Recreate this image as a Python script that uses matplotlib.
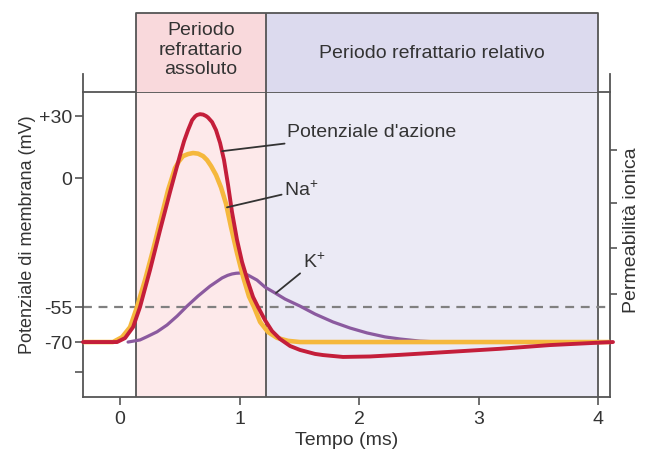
import numpy as np
import matplotlib
matplotlib.use("Agg")
import matplotlib.pyplot as plt

plt.rcParams['font.family'] = ['Liberation Sans', 'DejaVu Sans']
plt.rcParams['mathtext.fontset'] = 'custom'
plt.rcParams['mathtext.rm'] = 'Liberation Sans'
plt.rcParams['mathtext.default'] = 'regular'

# ---------------- data ----------------
# time in ms, membrane potential in mV
ap_t = [-0.31, -0.15, -0.025, 0.042, 0.109, 0.167, 0.251, 0.335, 0.418, 0.502,
        0.536, 0.569, 0.603, 0.628, 0.644, 0.669, 0.695, 0.720, 0.736, 0.770,
        0.803, 0.837, 0.870, 0.904, 0.937,
        0.979, 1.021, 1.071, 1.113, 1.155, 1.213, 1.272, 1.339, 1.423, 1.506,
        1.632, 1.700, 1.866, 2.092, 2.343, 2.762, 3.180, 3.598, 3.992, 4.125]
ap_v = [-70, -70, -70, -68.3, -63.6, -55, -39.2, -22.2, -6.0, 11.1,
        17.9, 23.2, 28.0, 29.8, 30.5, 30.9, 30.7, 30.0, 29.3, 27.1,
        23.2, 17.0, 8.7, -3, -14.5,
        -26.4, -35.8, -44.3, -50.7, -55, -60.6, -65.3, -68.7, -71.7, -73.4,
        -75.1, -75.6, -76.4, -76.2, -75.5, -74.2, -72.9, -71.3, -70.3, -70]

na_t = [-0.31, -0.15, -0.059, 0.017, 0.084, 0.142, 0.209, 0.276, 0.343, 0.402,
        0.460, 0.494, 0.527, 0.569, 0.611, 0.653, 0.695, 0.728, 0.762, 0.803,
        0.845, 0.887, 0.929, 0.979,
        1.029, 1.079, 1.121, 1.172, 1.238, 1.314, 1.406, 1.506, 2.0, 2.5,
        3.0, 3.5, 4.0, 4.12]
na_v = [-70, -70, -70, -67.9, -63.6, -55, -43.5, -30.7, -17.1, -5.1,
        4.8, 8.2, 10.6, 11.6, 12.1, 11.8, 10.6, 8.7, 5.8, 1.5,
        -4, -11, -21, -32,
        -42, -50.5, -55, -61.4, -65.7, -68.2, -69.5, -70, -70, -70,
        -70, -70, -70, -70]

k_t = [0.067, 0.167, 0.226, 0.310, 0.393, 0.477, 0.561, 0.653, 0.753, 0.854,
       0.900, 0.937, 0.971, 1.004, 1.038, 1.071, 1.146, 1.213, 1.297, 1.381,
       1.506, 1.632, 1.782,
       1.925, 2.067, 2.218, 2.343, 2.510, 2.678, 3.2, 3.6, 4.0]
k_v = [-70, -69.1, -67.7, -65.6, -62.7, -58.9, -54.6, -50.3, -46.1, -42.6,
       -41.5, -40.9, -40.6, -40.5, -40.8, -41.4, -43.5, -46.5, -49, -51.6,
       -54.6, -58, -61.4,
       -64, -66.1, -67.8, -68.7, -69.6, -70, -70, -70, -70]

threshold = -55
y_ticks = [30, 0, -55, -70, -83]
y_ticklabels = ['+30', '0', '-55', '-70', '']
x_ticks = [0, 1, 2, 3, 4]
perm_ticks = [0.338, 0.489, 0.636, 0.81]

abs_period = (0.134, 1.222)
rel_period = (1.222, 4.0)

# ---------------- non-linear schematic y-scale ----------------
mv_knots = np.array([-140, -70, -55, 0, 30, 100], dtype=float)
px_knots = -np.array([505, 342, 307, 178, 116, -29], dtype=float)

def fwd(v):
    return np.interp(v, mv_knots, px_knots)

def inv(d):
    return np.interp(d, px_knots, mv_knots)

W, H = 651, 453
fig = plt.figure(figsize=(W / 100, H / 100), dpi=100)

L, R, T, B = 83, 610, 92, 397
ax = fig.add_axes([L / W, 1 - B / H, (R - L) / W, (B - T) / H])
ax.set_yscale('function', functions=(fwd, inv))
ax.set_xlim(-0.31, 4.10)
ax.set_ylim(-93.6, 41.6)

edge = '#555555'
txt = '#333333'

ax.axvspan(*abs_period, color='#fde9ea', zorder=0, lw=0)
ax.axvspan(*rel_period, color='#ebeaf5', zorder=0, lw=0)
for xv in (abs_period[0], abs_period[1], rel_period[1]):
    ax.axvline(xv, color=edge, lw=1.3, zorder=1)

ax.axhline(threshold, color='#808080', lw=1.6, dashes=(4, 3), zorder=2)

ax.plot(k_t, k_v, color='#8b5a9f', lw=2.3, zorder=3, solid_capstyle='round',
        solid_joinstyle='round')
ax.plot(na_t, na_v, color='#f5b83d', lw=3.3, zorder=4, solid_capstyle='round',
        solid_joinstyle='round')
ax.plot(ap_t, ap_v, color='#c41e3a', lw=2.8, zorder=5, solid_capstyle='round',
        solid_joinstyle='round', clip_on=False)

for s in ax.spines.values():
    s.set_color(edge)
    s.set_linewidth(1.3)

# side spines extend above the top line
for xa in (0, 1):
    ax.plot([xa, xa], [1, 1 + 18 / (B - T)], transform=ax.transAxes,
            color=edge, lw=1.3, clip_on=False)

ax.set_yticks(y_ticks)
ax.set_yticklabels(y_ticklabels)
ax.set_xticks(x_ticks)
ax.tick_params(axis='both', direction='out', length=6, width=1.2, color=edge,
               labelsize=14, labelcolor=txt, pad=2)
ax.tick_params(axis='x', pad=4)

ax.set_xlabel('Tempo (ms)', fontsize=14, color=txt, labelpad=3)

tw = ax.twinx()
tw.set_ylim(0, 1)
tw.set_yticks(perm_ticks)
tw.set_yticklabels([])
tw.tick_params(axis='y', direction='out', length=5, width=1.2, color=edge)
for s in tw.spines.values():
    s.set_visible(False)

fig.text(28 / W, 1 - 235 / H, 'Potenziale di membrana (mV)', rotation=90,
         ha='center', va='center', fontsize=13, color=txt)
fig.text(632 / W, 1 - 230 / H, 'Permeabilità ionica', rotation=90,
         ha='center', va='center', fontsize=14, color=txt)

# annotations with leader lines
lead = dict(arrowstyle='-', color='#333333', lw=1.3, shrinkA=0, shrinkB=0)
ax.annotate("Potenziale d'azione", xy=(0.854, 13), xytext=(1.40, 21.8),
            textcoords='data', ha='left', va='center', fontsize=14, color=txt,
            arrowprops=lead, zorder=6)
ax.annotate('Na$^{+}$', xy=(0.895, -12.5), xytext=(1.375, -5.1),
            textcoords='data', ha='left', va='center', fontsize=14, color=txt,
            arrowprops=lead, zorder=6)
ax.annotate('K$^{+}$', xy=(1.305, -49), xytext=(1.53, -35.8),
            textcoords='data', ha='left', va='center', fontsize=14, color=txt,
            arrowprops=lead, zorder=6)

# header
HT = 13
hax = fig.add_axes([L / W, 1 - T / H, (R - L) / W, (T - HT) / H])
hax.set_xlim(ax.get_xlim())
hax.set_ylim(0, 1)
hax.axis('off')
hax.axvspan(*abs_period, color='#f9d9dc', lw=0)
hax.axvspan(*rel_period, color='#dcdaee', lw=0)
hax.plot([abs_period[0], abs_period[0], rel_period[1], rel_period[1]],
         [0, 1, 1, 0], color=edge, lw=1.3, clip_on=False)
hax.plot([abs_period[1], abs_period[1]], [0, 1], color=edge, lw=1.3)
hax.text(sum(abs_period) / 2, 0.53, 'Periodo\nrefrattario\nassoluto',
         ha='center', va='center', fontsize=14, color=txt, linespacing=1.22)
hax.text(2.61, 0.49, 'Periodo refrattario relativo', ha='center', va='center',
         fontsize=14, color=txt)

fig.savefig('out.png', dpi=100)
